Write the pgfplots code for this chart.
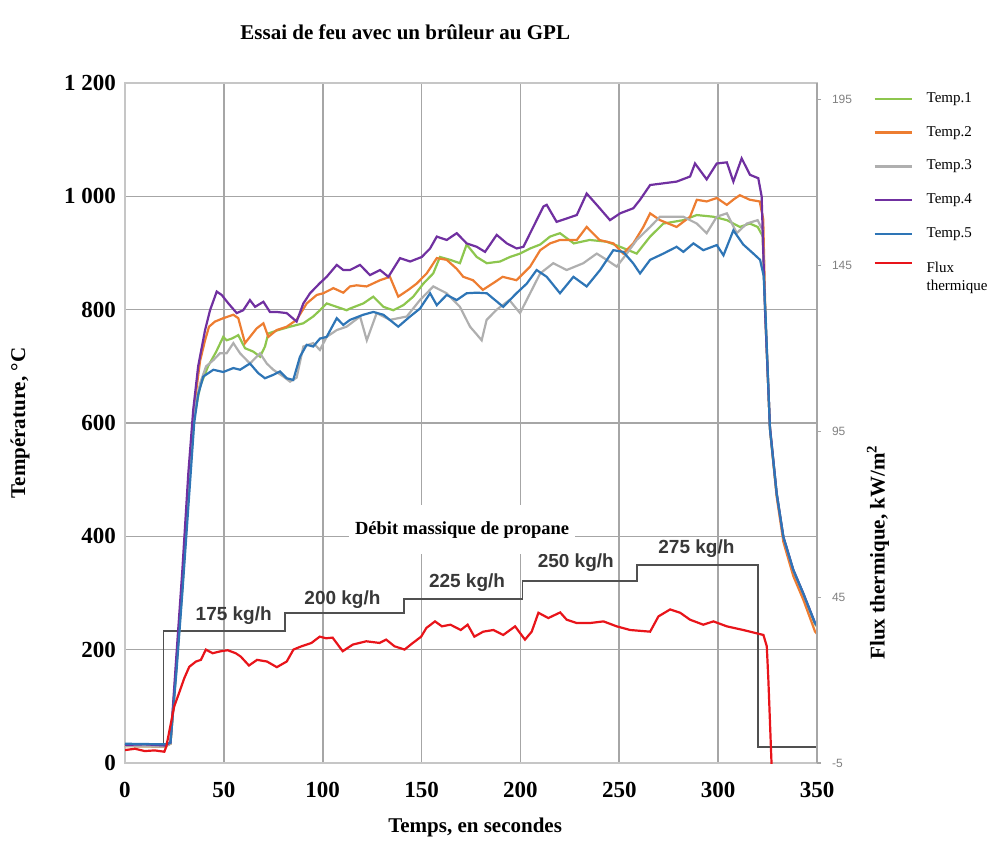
\documentclass[border=0pt]{standalone}
\usepackage{fontspec}
\setmainfont{Liberation Serif}
\newfontfamily\arial{Liberation Sans}
\usepackage{pgfplots}
\pgfplotsset{compat=1.18}

\definecolor{cTone}{RGB}{141,198,78}
\definecolor{cTtwo}{RGB}{237,125,49}
\definecolor{cTthree}{RGB}{175,175,175}
\definecolor{cTfour}{RGB}{112,48,160}
\definecolor{cTfive}{RGB}{46,117,182}
\definecolor{cFlux}{RGB}{232,20,26}
\definecolor{cStep}{RGB}{80,80,80}
\pgfplotsset{fluxlegend/.style={legend image code/.code={\draw[##1] (0pt,7pt) -- (18.5pt,7pt);}}}

\begin{document}
\begin{tikzpicture}
\useasboundingbox (0,0) rectangle (498pt,-429.5pt);
\begin{axis}[
  at={(62.5pt,-381.5pt)}, anchor=south west,
  scale only axis, width=346pt, height=340pt,
  xmin=0, xmax=350, ymin=0, ymax=1200,
  xtick={0,50,...,350}, xticklabels={0,50,100,150,200,250,300,350},
  ytick={0,200,...,1200}, yticklabels={0,200,400,600,800,1 000,1 200},
  tick style={draw=none},
  tick label style={font=\bfseries\fontsize{11.5}{12}\selectfont},
  xticklabel style={yshift=-6pt},
  yticklabel style={xshift=-1pt},
  grid=major, grid style={gray!70, line width=0.8pt},
  axis line style={gray!45, line width=0.8pt},
  title={Essai de feu avec un brûleur au GPL},
  title style={at={(0.405,1)}, anchor=base, yshift=16pt, font=\bfseries\fontsize{10.5}{12}\selectfont},
  xlabel={Temps, en secondes},
  xlabel style={at={(0.506,0)}, anchor=base, yshift=-34.5pt, font=\bfseries\fontsize{10.5}{12}\selectfont},
  ylabel={Température, °C},
  ylabel style={at={(-0.1517,0.5)}, anchor=center, font=\bfseries\fontsize{10.5}{12}\selectfont},
  legend style={at={(1.081,0.993)}, anchor=north west, draw=none, fill=none,
    font=\fontsize{7.5}{9}\selectfont, row sep=6.5pt, column sep=5pt, inner sep=0pt,
    cells={anchor=west, align=left}},
  legend image code/.code={\draw[#1] (0pt,0pt) -- (18.5pt,0pt);},
  clip=true,
]
% débit massique de propane (paliers)
\addplot[cStep, line width=0.9pt, const plot, forget plot] coordinates {
(0,29) (19.5,233) (81,265) (141,290) (201,321) (259,350) (320,28) (350,28)};

\addplot[cTone, line width=1.1pt] table {
0 30
20 29
23 34
26 170
29 310
32 470
35 610
38 665
42 700
46 725
49.7 752
51.4 746
54 749
57.3 755
60.7 732
64.9 726
68.3 717
70.8 735
72.5 758
77.5 764
83.5 770
90.2 776
95.2 788
98.6 799
102 811
107.1 805
112.1 799
113.8 802
120.5 811
125.6 823
130.7 805
135.7 799
140.8 808
145.8 823
150.9 846
155.9 864
159.3 893
164.4 888
169.4 882
172.8 915
177.9 893
183 882
189.7 885
194.7 893
199.8 899
204.9 908
210 915
215 929
220 935
227 917
235 923
243.6 920
250.4 911
258.8 899
265.6 929
272.3 952
282.4 958
289.2 967
297.6 964
304.4 958
311 946
316 952
320 946
322.5 930
323.8 795
326.2 590
329.6 474
333 397
338 339
343.1 297
349 245
350 241
};
\addlegendentry{Temp.1}

\addplot[cTtwo, line width=1.1pt] table {
0 30
20 29
23 34
26 175
29 320
32 480
35 630
38 710
40.5 746
42.5 770
45.5 779
49.7 785
54.8 791
57.3 785
60.7 741
63.2 752
66.6 767
70 776
72.5 752
76.7 764
81.8 770
86.8 782
91.9 811
97 826
100.3 829
105.4 838
110.4 830
113.8 841
117.2 843
122.2 841
129 852
134 858
138.2 823
143.3 835
147.5 846
152.6 864
157.7 891
162.7 888
167.8 872
171.1 858
176 852
181 835
186.3 847
191 858
198 852
204.9 876
210 905
215 917
220 923
228.5 923
233.5 946
240 923
247 917
252 899
257.1 917
262 945
265.6 970
270.6 958
279 946
285.8 964
289.2 994
294.2 991
299.3 997
304.4 985
308 995
311 1002
316 994
321 991
322.8 960
323.9 790
326.2 590
329.6 470
333 390
338 330
343.1 288
349 232
350 228
};
\addlegendentry{Temp.2}

\addplot[cTthree, line width=1.1pt] table {
0 30
20 29
23 34
26 170
29 310
32 470
35 620
38 670
41 700
44.7 711
48 723
51.4 723
54.8 741
58.2 723
63.2 705
68.3 723
71.7 705
75 694
80.1 682
83.5 673
86.8 680
90.2 735
95.2 741
98.6 729
102 752
107.1 764
112.1 770
118.9 788
122.3 746
127.3 794
134 782
142.5 788
149.2 817
155.9 841
162.7 829
169.4 805
174.5 770
177 760
180.4 746
182.9 782
188 800
194.4 817
199.8 794
204.9 829
210 864
216.6 882
223.4 870
231.8 882
238.6 899
243.6 888
248.7 876
253.8 899
258.8 923
265.6 946
270.6 964
275.7 964
282.4 964
289.2 952
294.2 935
299.3 964
304.4 970
309.4 935
314.5 952
320 958
322.5 940
323.8 795
326.2 592
329.6 475
333 398
338 340
343.1 298
349 246
350 242
};
\addlegendentry{Temp.3}

\addplot[cTfour, line width=1.1pt] table {
0 32
10 33
20 31
23 36
26 190
29 340
32 510
34.5 623
37 700
40.5 764
43 799
46.4 832
48.9 826
52.3 811
56.5 794
59.8 799
63.2 817
65.8 805
70 814
73.3 796
76.7 796
81.8 794
86.8 779
90.2 811
93.6 829
98.6 847
102 858
107.1 879
110.4 870
113.8 870
118.9 879
123.9 861
129 870
133.2 858
139.1 891
144.2 885
150.1 893
154.3 908
157.7 929
162.7 923
167.8 935
172.8 917
177.9 911
182.1 902
188 932
193.1 917
198.1 908
201.5 911
206.5 946
211.6 982
213.3 985
218.3 955
223.4 961
228.5 967
233.5 1005
238.6 985
245.3 958
250.4 970
257.1 979
260.5 994
265.6 1020
272.3 1023
279 1026
285.8 1035
288.3 1058
294.2 1030
299.3 1058
304.4 1060
307.7 1026
311.9 1067
316.1 1038
320.3 1032
322 1000
323.7 800
326.2 593
329.6 476
333 399
338 341
343.1 299
349 247
350 243
};
\addlegendentry{Temp.4}

\addplot[cTfive, line width=1.1pt] table {
0 34
20 33
23 36
26 160
29 300
32 450
35 600
37 650
39.6 682
44.7 694
49.7 690
54.8 697
58.2 694
63.2 705
67.4 688
70.8 679
75 685
78.4 691
81.8 679
85.1 676
88.5 717
91.9 738
95.2 735
98.6 749
102 752
107.1 785
110.4 773
113.8 782
120.5 791
125.6 796
130.7 791
138.2 770
144.2 788
149.2 802
154.3 829
157.7 808
162.7 826
167.8 817
172.8 829
177.9 830
183 829
191.3 805
198 829
203.2 846
208.2 870
213.3 858
220 829
226.8 858
233.5 841
240.3 870
247 905
252 902
257 882
260.5 864
265.6 888
272.3 899
279 911
282.4 902
287.5 917
292.5 905
299.3 914
302.7 896
307.7 940
312.7 915
317.8 899
321.2 888
323 860
324 790
326.2 590
329.6 476
333 399
338 341
343.1 299
349 247
350 243
};
\addlegendentry{Temp.5}

\addlegendimage{cFlux, line width=1.1pt, fluxlegend}
\addlegendentry{Flux\\thermique}

\node[font=\arial\bfseries\fontsize{9.5}{10}\selectfont, text=cStep!70!black] at (axis cs:55,260) {175 kg/h};
\node[font=\arial\bfseries\fontsize{9.5}{10}\selectfont, text=cStep!70!black] at (axis cs:110,288) {200 kg/h};
\node[font=\arial\bfseries\fontsize{9.5}{10}\selectfont, text=cStep!70!black] at (axis cs:173,318) {225 kg/h};
\node[font=\arial\bfseries\fontsize{9.5}{10}\selectfont, text=cStep!70!black] at (axis cs:228,353) {250 kg/h};
\node[font=\arial\bfseries\fontsize{9.5}{10}\selectfont, text=cStep!70!black] at (axis cs:289,379) {275 kg/h};
\node[fill=white, inner xsep=3pt, inner ysep=8pt, font=\bfseries\fontsize{9.25}{10}\selectfont] at (axis cs:170.5,412) {Débit massique de propane};
\end{axis}

\begin{axis}[
  at={(62.5pt,-381.5pt)}, anchor=south west,
  scale only axis, width=346pt, height=340pt,
  xmin=0, xmax=350, ymin=-5, ymax=200,
  axis x line=none, axis y line*=right,
  axis line style={gray!70, line width=0.8pt},
  ytick={-5,45,95,145,195}, yticklabels={-5,45,95,145,195},
  tick align=outside, major tick length=2pt, tick style={gray!70, line width=0.6pt},
  yticklabel style={font=\arial\fontsize{6}{7}\selectfont, text=gray, xshift=2pt},
  ylabel={Flux thermique, kW/m\textsuperscript{2}},
  ylabel style={at={(1.088,0.31)}, anchor=center, font=\bfseries\fontsize{10.5}{12}\selectfont},
  clip=true,
]
\addplot[cFlux, line width=1.1pt] table {
0 -1.1
5 -0.7
10 -1.4
15 -1.2
19.9 -1.6
20.9 0.0
24.9 12.1
27.4 16.2
30 20.6
32.5 24.0
35.9 25.6
38.4 26.1
40.9 29.2
44.3 28.1
48.5 28.7
51.9 29.0
56 28.1
58.5 27.1
62.7 24.4
66.8 26.1
71.8 25.6
76.8 23.9
81.8 25.6
85.2 29.2
89.3 30.2
94.3 31.2
98.5 33.1
101.7 32.6
105 32.8
110.1 28.7
115.2 30.7
122 31.7
128.7 31.2
132.1 32.2
136.3 30.2
141.4 29.2
145.6 31.2
149.8 33.1
152.4 35.7
156.8 37.7
160.3 36.2
164.6 36.7
169.8 35.1
173.3 36.7
176.7 33.1
181.2 34.6
186.3 35.1
191.3 33.6
197.3 36.2
202.3 32.2
205.7 34.6
209.1 40.3
214.1 38.7
220.1 40.4
223.4 38.2
228.5 37.2
235.2 37.2
242 37.7
248.7 36.2
255.5 35.1
265.6 34.6
269.8 39.2
275.7 41.3
280.8 40.3
285.8 38.2
292.5 36.7
297.6 37.7
304.4 36.2
312.7 35.1
319.5 34.1
322.9 33.6
324.6 30.2
325.4 20.1
327.1 -6.7
};
\end{axis}
\end{tikzpicture}
\end{document}
